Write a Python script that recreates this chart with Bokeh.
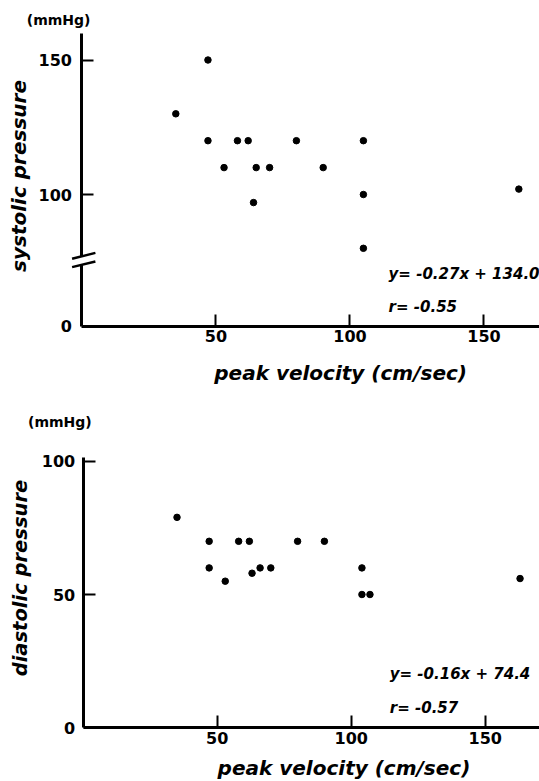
import math
from bokeh.plotting import figure
from bokeh.models import LinearAxis, FixedTicker, Label, Range1d
from bokeh.layouts import column
from bokeh.embed import file_html
from bokeh.resources import INLINE

# ---------------- data ----------------
sys_velocity = [35, 47, 47, 53, 58, 62, 64, 65, 70, 80, 90, 105, 105, 105, 163]
systolic = [130, 150, 120, 110, 120, 120, 97, 110, 110, 120, 110, 120, 100, 80, 102]

dia_velocity = [35, 47, 47, 53, 58, 62, 63, 66, 70, 80, 90, 104, 104, 107, 163]
diastolic = [79, 70, 60, 55, 70, 70, 58, 60, 60, 70, 70, 60, 50, 50, 56]

x_ticks = [50, 100, 150]
sys_ticks = [100, 150]
dia_ticks = [0, 50, 100]

x_title = "peak velocity (cm/sec)"
unit_label = "(mmHg)"
sys_title = "systolic pressure"
dia_title = "diastolic pressure"
sys_fit = ["y= -0.27x + 134.0", "r= -0.55"]
dia_fit = ["y= -0.16x + 74.4", "r= -0.57"]

# ---------------- styling ----------------
FONT = "DejaVu Sans"
W = 539
SYS_ZERO = 51      # display position of the "0" below the axis break
BREAK = 75.5       # display position of the axis break


def make_fig(h, xr, yr):
    p = figure(width=W, height=h, x_range=Range1d(*xr), y_range=Range1d(*yr),
               output_backend="svg", toolbar_location=None,
               x_axis_type=None, y_axis_type=None, min_border=0)
    p.outline_line_color = None
    p.background_fill_color = "white"
    p.border_fill_color = "white"
    return p


def style_axis(ax, standoff):
    ax.axis_line_width = 3
    ax.axis_line_color = "black"
    ax.major_tick_in = 12
    ax.major_tick_out = 0
    ax.major_tick_line_width = 2
    ax.major_tick_line_color = "black"
    ax.minor_tick_line_color = None
    ax.major_label_text_font = FONT
    ax.major_label_text_font_style = "bold"
    ax.major_label_text_font_size = "16px"
    ax.major_label_text_color = "black"
    ax.major_label_standoff = standoff


def label(p, x, y, text, size, style="bold italic", angle=0.0,
          align="left", baseline="alphabetic"):
    p.add_layout(Label(x=x, y=y, text=text, text_font=FONT,
                       text_font_style=style, text_font_size=size,
                       angle=angle, text_align=align, text_baseline=baseline,
                       text_color="black"))


# ---------------- top: systolic ----------------
p1 = make_fig(388, (-30.41, 170.71), (27.88, 172.12))

xa = LinearAxis(fixed_location=SYS_ZERO, bounds=(0, 172),
                ticker=FixedTicker(ticks=x_ticks))
style_axis(xa, 4)
p1.add_layout(xa, "below")

ya = LinearAxis(fixed_location=0, bounds=(BREAK + 1.5, 160),
                ticker=FixedTicker(ticks=sys_ticks))
style_axis(ya, 10)
p1.add_layout(ya, "left")

yb = LinearAxis(fixed_location=0, bounds=(SYS_ZERO, BREAK - 1.6),
                ticker=FixedTicker(ticks=[SYS_ZERO]),
                major_label_overrides={SYS_ZERO: "0"})
style_axis(yb, 10)
yb.major_tick_line_color = None
p1.add_layout(yb, "left")

# axis-break marks
p1.segment(x0=[-3.7, -3.7], y0=[BREAK - 2.5, BREAK + 0.6],
           x1=[5.0, 5.0], y1=[BREAK - 0.4, BREAK + 2.8],
           line_width=2.5, line_color="black")

p1.scatter(sys_velocity, systolic, size=6.5, color="black")

label(p1, -20.6, 164.9, unit_label, "14px", style="bold", baseline="middle")
label(p1, -23.5, 106.9, sys_title, "20px", angle=math.pi / 2,
      align="center", baseline="middle")
label(p1, 96.5, 33.46, x_title, "20px", align="center")
label(p1, 114.4, 70.6, sys_fit[0], "15px")
label(p1, 114.4, 58.0, sys_fit[1], "15px")

# ---------------- bottom: diastolic ----------------
p2 = make_fig(392, (-30.86, 170.26), (-19.92, 127.44))

xa2 = LinearAxis(fixed_location=0, bounds=(0, 172),
                 ticker=FixedTicker(ticks=x_ticks))
style_axis(xa2, 4)
p2.add_layout(xa2, "below")

ya2 = LinearAxis(fixed_location=0, bounds=(0, 101.5),
                 ticker=FixedTicker(ticks=dia_ticks))
style_axis(ya2, 8)
p2.add_layout(ya2, "left")

p2.scatter(dia_velocity, diastolic, size=6.5, color="black")

label(p2, -20.6, 114.85, unit_label, "14px", style="bold", baseline="middle")
label(p2, -23.4, 56.2, dia_title, "19.5px", angle=math.pi / 2,
      align="center", baseline="middle")
label(p2, 97.3, -15.04, x_title, "20px", align="center")
label(p2, 114.4, 20.1, dia_fit[0], "15px")
label(p2, 114.4, 7.3, dia_fit[1], "15px")

layout = column(p1, p2, spacing=0)
open("out.html", "w").write(file_html(layout, INLINE))
